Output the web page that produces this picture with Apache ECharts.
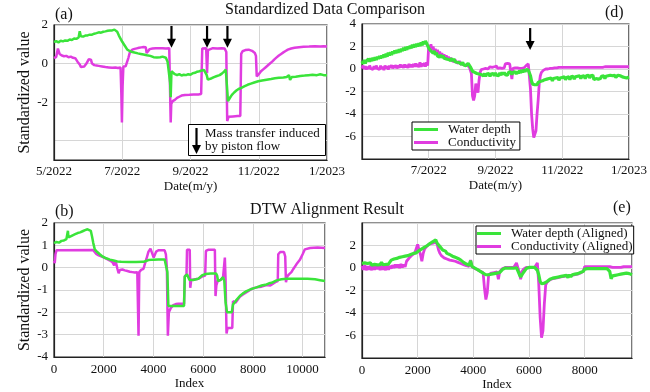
<!DOCTYPE html>
<html><head><meta charset="utf-8">
<script src="https://cdn.jsdelivr.net/npm/echarts@6/dist/echarts.min.js"></script>
<style>html,body{margin:0;padding:0;background:#fff}#c{width:650px;height:392px}</style>
</head><body><div id="c"></div>
<script>
const FONT = "'Liberation Serif','Times New Roman',serif";
const GREEN = '#3ae43a', MAGENTA = '#e03ce0';

// date ticks (days since 1 May 2022)
const dateTickDays = [0, 61, 122, 183, 244];
const dateTickLabels = ['5/2022', '7/2022', '9/2022', '11/2022', '1/2023'];
// y tick values of panel (a)
const aYTicks = [-4, -2, 0, 2];
const aYLabels = [-2, 0, 2];

// (a) raw standardized series: [day, value]
const aDepth = [[0,1.12],[2,1.16],[4,1.1],[6,1.18],[8,1.15],[10,1.2],[12,1.18],[14,1.25],[16,1.22],[18,1.3],[20,1.28],[22,1.35],[23,1.68],[24,1.42],[26,1.4],[28,1.45],[30,1.46],[32,1.5],[34,1.5],[36,1.55],[38,1.58],[40,1.62],[42,1.6],[44,1.65],[46,1.67],[48,1.7],[50,1.72],[52,1.72],[54,1.76],[55.5,1.74],[56.5,1.65],[58,1.45],[59,1.36],[61,1.13],[63,0.95],[65.5,0.72],[68,0.64],[70,0.6],[72,0.57],[75,0.53],[77.5,0.5],[80,0.47],[83,0.43],[86,0.4],[89,0.33],[92,0.32],[95,0.33],[97,0.36],[98.6,0.38],[100,0.3],[101.5,0.1],[103,0.0],[103.8,-1.0],[104.3,-1.75],[105,-0.4],[106,-0.48],[108,-0.55],[110,-0.6],[112,-0.55],[114,-0.62],[116,-0.58],[118,-0.6],[120,-0.55],[122,-0.58],[124,-0.5],[126,-0.48],[128,-0.42],[130,-0.4],[132,-0.36],[134,-0.33],[135.5,-0.3],[136.5,-0.6],[137.5,-0.83],[139,-0.8],[141,-0.76],[143,-0.7],[145,-0.66],[148,-0.6],[150,-0.52],[152,-0.42],[153.5,-0.31],[154.5,-1.1],[155.5,-1.95],[157,-1.8],[159,-1.62],[161,-1.5],[163,-1.4],[165,-1.32],[167.5,-1.26],[170,-1.18],[173,-1.1],[176,-1.04],[179,-0.98],[182.5,-0.92],[186,-0.88],[190,-0.84],[194,-0.8],[197.5,-0.76],[201,-0.74],[205,-0.72],[208,-0.7],[210,-0.6],[211,-0.85],[212.5,-0.7],[216,-0.68],[220,-0.64],[224,-0.62],[227.5,-0.6],[231,-0.58],[235,-0.6],[238,-0.55],[241,-0.6],[244,-0.6]];
const aCond = [[0,0.28],[2,0.35],[3.5,0.78],[5,0.5],[7,0.42],[9,0.38],[11,0.4],[13,0.33],[15,0.36],[17,0.3],[19,0.28],[21,0.1],[23,-0.05],[24,-0.18],[25,-0.1],[27,-0.15],[29,0.0],[31,0.22],[33,0.2],[34,0.0],[36,-0.08],[38,-0.1],[40,-0.12],[43,-0.15],[46,-0.18],[49,-0.2],[52,-0.22],[55,-0.2],[57,-0.23],[59.5,-0.2],[60.2,-1.6],[60.7,-3.05],[61.3,-1.2],[62,-0.15],[64,-0.14],[65.5,-0.12],[66.5,0.3],[68,0.62],[70,0.72],[72,0.76],[74,0.79],[76,0.82],[78,0.84],[80,0.86],[82,0.85],[82.8,0.55],[84.5,0.5],[85.5,0.75],[88,0.78],[91,0.8],[94,0.79],[97,0.8],[100,0.78],[103,0.8],[103.7,0.7],[104.3,-3.05],[104.8,-2.1],[106,-1.95],[108,-1.88],[110,-1.78],[112,-1.72],[114,-1.66],[117,-1.63],[121,-1.62],[125,-1.6],[129,-1.6],[131.5,-1.58],[132.5,0.78],[134,0.82],[136,0.8],[136.8,-0.5],[137.6,0.7],[139,0.78],[142,0.8],[146,0.78],[150,0.79],[152.5,0.78],[154,0.6],[154.8,-2.98],[156,-2.76],[160,-2.74],[164,-2.72],[166.5,-2.72],[167.3,0.5],[168.5,0.64],[171,0.7],[174,0.72],[177,0.66],[179.5,0.55],[180.5,0.4],[181.2,-0.67],[183,-0.55],[185,-0.4],[187,-0.3],[189,-0.2],[191,-0.1],[193,0.0],[195,0.1],[197,0.22],[199,0.32],[201,0.42],[203,0.5],[205,0.58],[207,0.65],[209,0.72],[212,0.78],[215,0.82],[219,0.85],[223,0.87],[228,0.88],[233,0.9],[238,0.88],[241,0.9],[244,0.88]];

// (d) daily values, day 0 .. 244
const dDepth = [0.7,0.45,0.8,0.5,0.72,0.55,0.9,0.65,0.95,0.7,
1.0,0.75,1.05,0.8,1.1,0.9,1.15,0.95,1.2,1.0,
1.3,1.05,1.35,1.1,1.45,1.2,1.5,1.25,1.55,1.35,
1.65,1.4,1.7,1.45,1.75,1.5,1.8,1.6,1.9,1.65,
1.95,1.7,2.0,1.8,2.05,1.85,2.15,1.9,2.2,1.95,
2.25,2.0,2.3,2.05,2.35,2.1,2.45,2.2,2.5,2.3,
2.2,1.85,1.95,1.6,1.75,1.4,1.6,1.25,1.45,1.15,
1.3,1.05,1.25,1.0,1.2,0.95,1.1,0.9,1.05,0.85,
1.0,0.75,0.95,0.7,0.9,0.65,0.8,0.6,0.75,0.55,
0.65,0.4,0.6,0.35,0.5,0.3,0.45,0.5,0.55,0.2,
0.0,-0.2,-0.05,-0.3,-0.15,-0.4,-0.25,-0.45,-0.3,-0.5,
-0.35,-0.6,-0.4,-0.65,-0.45,-0.6,-0.4,-0.65,-0.45,-0.6,
-0.4,-0.6,-0.35,-0.55,-0.4,-0.6,-0.35,-0.55,-0.3,-0.5,
-0.3,-0.5,-0.35,-0.55,-0.3,-0.45,-0.25,-0.5,-0.3,-0.45,
-0.25,-0.45,-0.2,-0.4,-0.15,-0.35,-0.1,-0.3,-0.05,-0.25,
-0.05,0.0,-0.1,0.0,-0.6,-1.1,-1.35,-1.5,-1.4,-1.3,
-1.4,-1.2,-1.3,-1.1,-1.25,-1.05,-1.15,-0.95,-1.1,-0.9,
-1.05,-0.85,-1.0,-0.8,-1.05,-0.85,-1.0,-0.8,-0.95,-0.75,
-1.0,-0.8,-0.95,-0.75,-0.9,-0.7,-0.95,-0.75,-0.9,-0.7,
-0.95,-0.7,-0.85,-0.65,-0.9,-0.7,-0.85,-0.65,-0.8,-0.6,
-0.85,-0.65,-0.8,-0.6,-0.85,-0.6,-0.75,-0.55,-0.8,-0.6,
-0.75,-0.55,-0.95,-1.0,-0.85,-0.7,-0.9,-0.75,-0.85,-0.65,
-0.8,-0.6,-0.85,-0.65,-0.8,-0.6,-0.75,-0.55,-0.7,-0.6,
-0.7,-0.55,-0.75,-0.6,-0.55,-0.45,-0.6,-0.5,-0.7,-0.6,
-0.75,-0.6,-0.8,-0.65,-0.72];
const dCond = [0.05,0.3,0.0,0.25,-0.05,0.2,0.0,0.3,0.05,0.2,
-0.05,0.25,0.0,0.3,0.05,0.2,-0.05,0.3,0.0,0.2,
-0.1,0.3,0.05,0.25,-0.05,0.3,0.1,0.35,0.05,0.3,
0.1,0.35,0.05,0.3,0.1,0.4,0.15,0.35,0.1,0.4,
0.15,0.35,0.1,0.45,0.15,0.4,0.15,0.45,0.2,0.5,
0.2,0.45,0.15,0.6,0.2,0.5,0.25,0.55,0.2,0.6,
0.3,2.1,1.6,2.2,1.7,2.0,1.5,1.8,1.4,1.7,
1.3,1.55,1.2,1.4,1.1,1.3,1.0,1.2,0.9,1.1,
0.8,1.0,0.75,0.9,0.65,0.85,0.6,0.75,0.5,0.7,
0.45,0.6,0.4,0.55,0.35,0.5,0.3,0.4,0.2,-0.1,
-0.4,-2.4,-2.8,-2.4,-1.3,-1.7,-2.1,-1.0,-0.3,-0.05,
0.1,0.0,0.1,0.05,0.15,0.0,0.1,0.2,0.05,0.15,
0.05,0.2,0.1,0.25,0.05,0.15,0.1,0.2,0.05,0.15,
0.1,0.45,0.4,0.5,0.4,0.45,0.35,-0.9,0.05,0.1,
0.1,0.05,0.1,0.1,0.05,0.1,0.05,0.1,0.1,0.15,
0.3,0.45,0.45,0.3,-1.8,-4.0,-5.3,-6.1,-6.2,-5.5,
-4.0,-2.8,-1.3,-0.6,-0.3,-0.2,-0.1,-0.05,0.0,0.05,
0.0,0.1,0.05,0.1,0.05,0.15,0.1,0.15,0.1,0.2,
0.15,0.25,0.15,0.25,0.15,0.25,0.15,0.25,0.15,0.25,
0.15,0.25,0.15,0.25,0.15,0.25,0.15,0.25,0.15,0.25,
0.15,0.25,0.15,0.25,0.15,0.25,0.15,0.25,0.15,0.25,
0.15,0.25,0.15,0.25,0.15,0.25,0.15,0.25,0.15,0.25,
0.15,0.2,0.2,0.2,0.2,0.2,0.2,0.2,0.2,0.2,
0.2,0.2,0.2,0.2,0.2,0.2,0.2,0.2,0.2,0.2,
0.2,0.2,0.2,0.2,0.2];

// (b) DTW aligned series: [index, value]
const bDepth = [[0,1.1],[100,1.15],[200,1.12],[300,1.2],[400,1.22],[500,1.28],[540,1.3],[560,1.65],[580,1.35],[650,1.38],[750,1.45],[850,1.5],[950,1.55],[1050,1.58],[1150,1.63],[1250,1.68],[1350,1.72],[1420,1.76],[1480,1.65],[1530,1.4],[1580,1.1],[1640,0.82],[1740,0.7],[1840,0.6],[1950,0.5],[2100,0.42],[2250,0.36],[2400,0.32],[2550,0.28],[2700,0.26],[3000,0.25],[3300,0.25],[3600,0.26],[3700,0.3],[3800,0.34],[4000,0.36],[4200,0.37],[4450,0.37],[4520,0.3],[4560,-0.2],[4600,-1.72],[4800,-1.72],[5000,-1.72],[5230,-1.72],[5260,-0.4],[5350,-0.3],[5450,-0.55],[5600,-0.55],[5800,-0.5],[5950,-0.35],[6100,-0.28],[6300,-0.26],[6520,-0.26],[6560,-0.35],[6600,-0.6],[6700,-0.55],[6800,-0.42],[6850,-0.6],[6900,-1.55],[6960,-2.0],[7150,-2.0],[7200,-1.65],[7300,-1.5],[7474,-1.27],[7600,-1.15],[7745,-1.05],[7950,-0.95],[8148,-0.88],[8350,-0.8],[8550,-0.75],[8650,-0.7],[8700,-0.78],[8750,-0.68],[8953,-0.57],[9150,-0.52],[9356,-0.5],[9600,-0.5],[9900,-0.5],[10200,-0.5],[10500,-0.52],[10700,-0.56],[10900,-0.6]];
const bCond = [[0,0.3],[30,0.2],[60,0.6],[100,0.78],[1570,0.79],[1620,0.72],[1700,0.62],[1800,0.55],[1950,0.48],[2100,0.4],[2250,0.32],[2350,0.25],[2420,0.1],[2450,0.3],[2500,0.2],[2550,-0.05],[2600,-0.25],[2650,-0.1],[2700,-0.05],[2750,-0.08],[2850,-0.12],[2950,-0.15],[3050,-0.18],[3150,-0.2],[3250,-0.22],[3350,-0.2],[3380,-0.25],[3400,-3.05],[3430,-0.2],[3500,-0.1],[3600,-0.05],[3650,0.15],[3720,0.4],[3800,0.72],[3880,0.85],[3960,0.85],[4010,0.45],[4060,0.4],[4110,0.72],[4200,0.78],[4450,0.78],[4500,0.6],[4540,0.0],[4580,-3.05],[4620,-2.0],[4700,-1.8],[4800,-1.68],[4900,-1.63],[5000,-1.62],[5230,-1.62],[5260,-0.4],[5330,-0.3],[5350,0.8],[5460,0.8],[5480,-0.9],[5520,-0.55],[5600,-0.55],[5800,-0.5],[5950,-0.4],[6080,-0.35],[6110,0.75],[6200,0.8],[6470,0.8],[6497,-1.27],[6530,-0.8],[6580,-0.6],[6700,-0.55],[6800,-0.42],[6850,-0.5],[6872,0.45],[6900,-0.5],[6940,-2.95],[6980,-2.7],[7170,-2.7],[7200,-1.5],[7300,-1.57],[7474,-1.3],[7600,-1.2],[7745,-1.1],[7950,-0.95],[8148,-0.88],[8350,-0.85],[8550,-0.78],[8700,-0.8],[8900,-0.65],[9000,-0.6],[9020,0.6],[9100,0.7],[9250,0.7],[9300,0.5],[9330,-0.65],[9380,-0.4],[9450,-0.3],[9550,-0.2],[9620,-0.07],[9750,0.15],[9890,0.35],[10000,0.6],[10090,0.82],[10300,0.88],[10600,0.9],[10900,0.88]];

// (e) aligned series, one value every 50 indices (0 .. 9700)
const eStep = 50;
const eDepth = [0.42,0.3,0.45,0.28,0.4,0.3,0.45,0.25,0.4,0.32,0.45,0.28,0.42,0.3,0.5,0.3,0.45,0.32,0.48,0.35,
0.5,0.7,0.55,0.8,0.65,0.85,0.7,0.95,0.8,1.0,0.85,1.05,0.9,1.1,1.0,1.2,1.05,1.3,1.15,1.35,
1.3,1.55,1.45,1.7,1.6,1.85,1.75,2.0,1.95,2.2,
2.25,2.35,2.4,2.5,2.2,2.05,1.9,1.8,1.6,1.55,
1.5,1.3,1.4,1.2,1.3,1.05,1.15,0.95,1.05,0.85,
0.9,0.7,0.7,0.5,0.55,0.35,0.45,0.25,0.65,0.15,
0.2,0.0,0.05,-0.15,-0.1,-0.3,-0.25,-0.45,-0.4,-0.6,
-0.5,-0.6,-0.45,-0.55,-0.4,-0.5,-0.35,-0.45,-0.3,-0.4,
-0.25,-0.12,0.05,0.0,0.03,-0.02,0.02,0.0,0.03,-0.02,
0.0,0.02,-0.25,-0.55,-0.8,-0.6,-0.4,-0.25,-0.05,0.02,
0.05,0.02,0.05,0.0,0.05,0.0,-0.2,-0.6,-1.2,-1.4,
-1.5,-1.35,-1.45,-1.2,-1.25,-1.0,-1.15,-0.9,-1.05,-0.85,
-1.0,-0.8,-0.95,-0.75,-0.9,-0.7,-0.85,-0.65,-0.85,-0.6,
-0.8,-0.6,-0.75,-0.55,-0.7,-0.5,-0.6,-0.4,-0.45,-0.3,
-0.1,-0.05,-0.05,-0.05,-0.05,-0.05,-0.05,-0.05,-0.05,-0.05,
-0.05,-0.05,-0.05,-0.05,-0.05,-0.05,-0.05,-0.05,-0.3,-0.95,
-0.7,-0.85,-0.65,-0.8,-0.6,-0.75,-0.55,-0.7,-0.5,-0.6,
-0.45,-0.6,-0.5,-0.65,-0.6];
const eCond = [0.2,-0.15,0.25,-0.2,0.15,-0.15,0.2,-0.2,0.25,-0.15,0.2,-0.1,0.25,-0.2,0.3,-0.15,0.2,-0.2,0.25,-0.15,
0.2,-0.05,0.25,0.0,0.3,0.05,0.3,0.0,0.35,0.05,0.3,0.1,
0.6,0.75,0.9,1.0,1.15,1.2,1.35,1.5,
2.1,1.6,1.2,0.6,1.3,1.7,1.8,2.0,1.95,2.15,
2.1,2.2,2.15,2.3,2.1,1.6,1.3,1.1,1.05,0.9,
0.95,0.8,0.85,0.7,0.8,0.65,0.7,0.6,0.65,0.5,
0.55,0.4,0.45,0.3,0.35,0.2,0.25,0.15,0.7,0.1,
0.05,-0.05,-0.1,-0.15,-0.25,-0.3,-0.35,-0.4,-1.8,-2.8,
-2.2,-0.6,-0.5,-0.45,-0.5,-0.4,-0.45,-0.35,-1.0,-0.3,
-0.2,-0.05,0.05,0.05,0.05,0.05,0.05,0.05,0.05,0.05,
0.05,0.45,0.5,-0.4,-1.0,-0.3,-0.1,0.05,0.05,0.05,
0.05,0.05,0.05,0.05,0.05,0.1,0.45,-1.4,-4.4,-6.2,
-5.6,-3.2,-1.5,-1.25,-1.3,-1.05,-1.2,-0.95,-1.1,-0.9,
-1.0,-0.85,-0.95,-0.8,-0.9,-0.75,-0.85,-0.7,-0.85,-0.65,
-0.8,-0.65,-0.75,-0.6,-0.7,-0.55,-0.6,-0.45,-0.45,-0.3,
0.12,0.12,0.12,0.12,0.12,0.12,0.12,0.12,0.12,0.12,
0.12,0.12,0.12,0.12,0.12,0.12,0.12,0.12,0.12,0.12,
0.05,0.12,0.05,0.12,0.05,0.12,0.05,0.12,0.12,0.12,
0.12,0.12,0.12,0.12,0.12];

// piston-flow arrows (day positions)
const arrowDaysA = [105, 136.8, 155];
const arrowDaysD = [153.7];

const chart = echarts.init(document.getElementById('c'));

const lbl = {fontFamily: FONT, fontSize: 13, color: '#111'};
const splitLine = {show: true, lineStyle: {color: '#d6d6d6', width: 1}};
const axisLine = {show: true, onZero: false, lineStyle: {color: '#222', width: 1.2}};
const dateFmt = hideFirst => v => {
  const i = dateTickDays.indexOf(Math.round(v));
  if (i < 0 || (hideFirst && i === 0)) return '';
  return dateTickLabels[i];
};
function xDate(gi, hideFirst) {
  return {type: 'value', gridIndex: gi, min: 0, max: 244, interval: 61,
    axisLine, axisTick: {show: false}, splitLine,
    axisLabel: Object.assign({margin: 5, formatter: dateFmt(hideFirst)}, lbl),
    name: 'Date(m/y)', nameLocation: 'middle', nameGap: 20,
    nameTextStyle: {fontFamily: FONT, fontSize: 13, color: '#111'}};
}
function xIndex(gi, max, lastShown) {
  return {type: 'value', gridIndex: gi, min: 0, max: max, interval: 2000,
    axisLine, axisTick: {show: false}, splitLine,
    axisLabel: Object.assign({margin: 6, formatter: v => v > lastShown ? '' : String(v)}, lbl),
    name: 'Index', nameLocation: 'middle', nameGap: 20,
    nameTextStyle: {fontFamily: FONT, fontSize: 13, color: '#111'}};
}
function yAx(gi, min, max, interval, hidden, withName) {
  const o = {type: 'value', gridIndex: gi, min, max, interval,
    axisLine, axisTick: {show: false}, splitLine,
    axisLabel: Object.assign({margin: 6, formatter: v => hidden.includes(v) ? '' : String(v)}, lbl)};
  if (withName) {
    o.name = 'Standardized value'; o.nameLocation = 'middle'; o.nameGap = 20;
    o.nameTextStyle = {fontFamily: FONT, fontSize: 16, color: '#111'};
  }
  return o;
}
const yA = {type: 'value', gridIndex: 0, min: -5, max: 2,
  axisLine, axisTick: {show: false, customValues: aYTicks}, splitLine,
  axisLabel: Object.assign({margin: 6, customValues: aYLabels}, lbl),
  name: 'Standardized value', nameLocation: 'middle', nameGap: 20,
  nameTextStyle: {fontFamily: FONT, fontSize: 16, color: '#111'}};

function line(name, data, color, xi, width) {
  return {type: 'line', name, data, xAxisIndex: xi, yAxisIndex: xi, showSymbol: false, symbol: 'none',
    lineStyle: {color, width}, itemStyle: {color}, animation: false};
}
const legendBase = {orient: 'vertical', itemGap: 0, itemWidth: 24, itemHeight: 3, icon: 'rect',
  borderColor: '#000', borderWidth: 1, backgroundColor: '#fff', borderRadius: 0,
  textStyle: {fontFamily: FONT, fontSize: 13, color: '#111', padding: [0, 0, 0, 5]}};

const option = {
  animation: false,
  backgroundColor: '#fff',
  grid: [
    {left: 54, top: 25, width: 273, height: 135, show: true, borderColor: '#222', borderWidth: 1.2, backgroundColor: 'transparent'},
    {left: 362, top: 24, width: 271, height: 135, show: true, borderColor: '#222', borderWidth: 1.2, backgroundColor: 'transparent'},
    {left: 54, top: 223, width: 271, height: 134, show: true, borderColor: '#222', borderWidth: 1.2, backgroundColor: 'transparent'},
    {left: 362, top: 223, width: 270, height: 135, show: true, borderColor: '#222', borderWidth: 1.2, backgroundColor: 'transparent'}
  ],
  xAxis: [xDate(0, false), xDate(1, true), xIndex(2, 10900, 10000), xIndex(3, 9700, 8000)],
  yAxis: [yA, yAx(1, -8, 4, 2, [-8], false),
          yAx(2, -4, 2, 1, [], true), yAx(3, -8, 4, 2, [4, -8], false)],
  legend: [
    Object.assign({}, legendBase, {data: ['Water depth', 'Conductivity'], left: 412, top: 122, padding: [1, 4, 1, 2]}),
    Object.assign({}, legendBase, {data: ['Water depth (Aligned)', 'Conductivity (Aligned)'], left: 476, top: 226, padding: [1, 1, 1, 1]})
  ],
  series: [
    line('Conductivity', aCond, MAGENTA, 0, 2.5),
    line('Water depth', aDepth, GREEN, 0, 2.5),
    line('Conductivity', dCond.map((v, i) => [i, v]), MAGENTA, 1, 2.8),
    line('Water depth', dDepth.map((v, i) => [i, v]), GREEN, 1, 3.2),
    line('Conductivity (Aligned)', bCond, MAGENTA, 2, 2.5),
    line('Water depth (Aligned)', bDepth, GREEN, 2, 2.5),
    line('Conductivity (Aligned)', eCond.map((v, i) => [i * eStep, v]), MAGENTA, 3, 2.8),
    line('Water depth (Aligned)', eDepth.map((v, i) => [i * eStep, v]), GREEN, 3, 3.2)
  ]
};
chart.setOption(option);

function txt(text, x, y, size, align) {
  return {type: 'text', x, y, z: 100, style: {text, font: size + 'px ' + FONT, fill: '#111',
    align: align || 'left', verticalAlign: 'middle', textAlign: align || 'left', textVerticalAlign: 'middle'}};
}
function arrow(x, yTop, yTip) {
  return [
    {type: 'line', z: 100, shape: {x1: x, y1: yTop, x2: x, y2: yTip - 7}, style: {stroke: '#000', lineWidth: 2.2}},
    {type: 'polygon', z: 100, shape: {points: [[x - 4.5, yTip - 9], [x + 4.5, yTip - 9], [x, yTip]]}, style: {fill: '#000'}}
  ];
}
const els = [
  txt('Standardized Data Comparison', 325, 10, 16, 'center'),
  txt('DTW Alignment Result', 327, 210, 16, 'center'),
  txt('(a)', 55, 15, 16), txt('(d)', 605, 13, 16), txt('(b)', 55, 212, 16), txt('(e)', 613, 208, 16),
  {type: 'rect', z: 99, shape: {x: 188.5, y: 124.5, width: 137, height: 31}, style: {fill: '#fff', stroke: '#000', lineWidth: 1}},
  txt('Mass transfer induced', 205, 133.5, 13),
  txt('by piston flow', 205, 147, 13)
].concat(arrow(196.5, 128, 154));
arrowDaysA.forEach(d => {
  const p1 = chart.convertToPixel({xAxisIndex: 0, yAxisIndex: 0}, [d, 1.95]);
  const p2 = chart.convertToPixel({xAxisIndex: 0, yAxisIndex: 0}, [d, 0.82]);
  els.push(...arrow(p1[0], p1[1], p2[1]));
});
arrowDaysD.forEach(d => {
  const p1 = chart.convertToPixel({xAxisIndex: 1, yAxisIndex: 1}, [d, 3.64]);
  const p2 = chart.convertToPixel({xAxisIndex: 1, yAxisIndex: 1}, [d, 1.69]);
  els.push(...arrow(p1[0], p1[1], p2[1]));
});
chart.setOption({graphic: {elements: els}});
</script>
</body></html>
